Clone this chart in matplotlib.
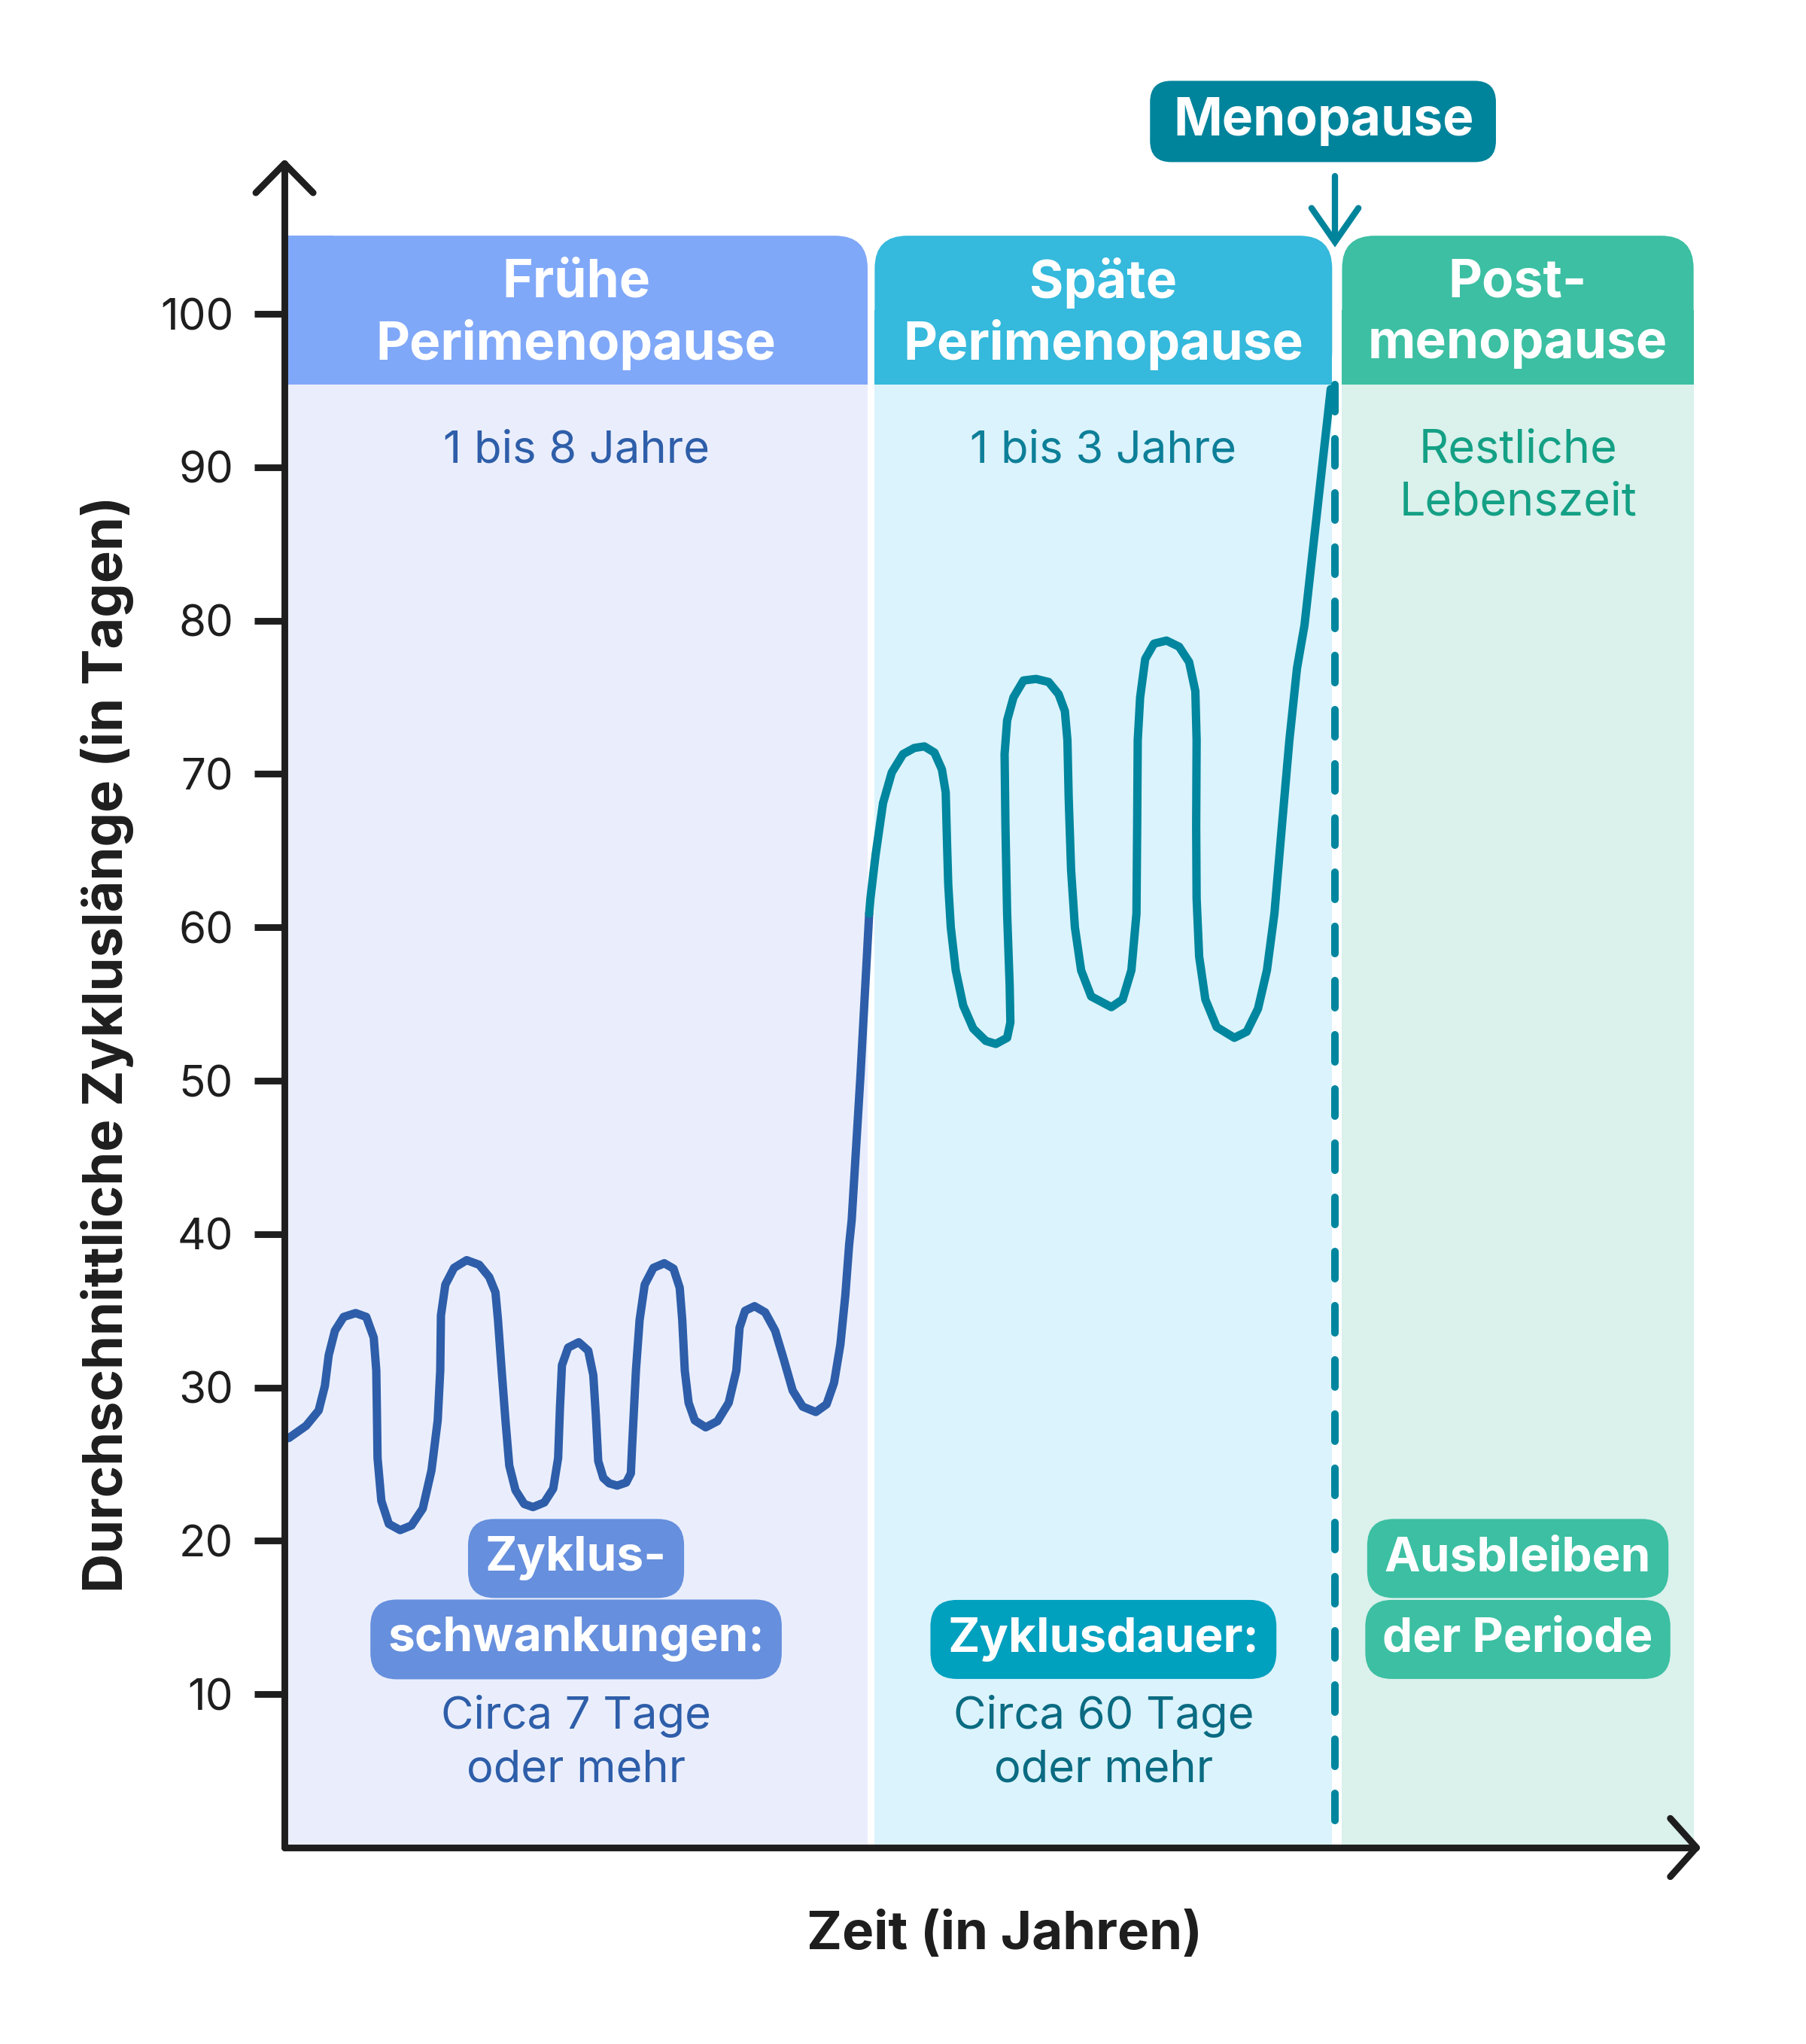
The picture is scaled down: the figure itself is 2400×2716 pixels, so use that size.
import matplotlib
matplotlib.use("Agg")
import matplotlib.pyplot as plt
from matplotlib.patches import FancyBboxPatch, Rectangle

plt.rcParams['font.family'] = ['Inter', 'DejaVu Sans']

# ---------------- data ----------------
phase_titles = [["Frühe", "Perimenopause"], ["Späte", "Perimenopause"], ["Post-", "menopause"]]
phase_durations = [["1 bis 8 Jahre"], ["1 bis 3 Jahre"], ["Restliche", "Lebenszeit"]]
phase_start = [0.0, 41.8, 74.9]
phase_end = [41.3, 74.2, 99.8]
menopause_t = 74.4

early_t = [0.30, 1.53, 2.42, 2.86, 3.13, 3.57, 4.19, 5.04, 5.79, 6.32, 6.50, 6.54, 6.59, 6.86,
           7.39, 8.19, 8.99, 9.79, 10.41, 10.85, 11.03, 11.08, 11.39, 12.01, 12.90, 13.79,
           14.50, 14.94, 15.12, 15.38, 15.65, 15.92, 16.36, 16.98, 17.60, 18.40, 19.03, 19.38,
           19.51, 19.65, 20.09, 20.84, 21.51, 21.87, 22.05, 22.22, 22.58, 23.00, 23.56, 24.20,
           24.53, 24.62, 24.89, 25.15, 25.51, 26.13, 26.90, 27.55, 27.99, 28.17, 28.35, 28.62,
           29.06, 29.83, 30.66, 31.46, 32.00, 32.23, 32.62, 33.29, 34.04, 34.75, 35.37, 35.99,
           36.70, 37.63, 38.39, 38.92, 39.37, 39.72, 39.99, 40.17, 40.79, 41.41]
early_v = [26.7, 27.5, 28.5, 30.1, 32.1, 33.7, 34.6, 34.85, 34.6, 33.25, 31.1, 28.7, 25.4, 22.6,
           21.1, 20.7, 21.0, 22.1, 24.6, 27.85, 31.1, 34.7, 36.7, 37.8, 38.3, 38.0,
           37.2, 36.2, 34.4, 31.1, 27.85, 24.9, 23.3, 22.4, 22.2, 22.5, 23.4, 25.4,
           28.7, 31.45, 32.6, 32.95, 32.4, 30.8, 28.2, 25.2, 24.1, 23.75, 23.6, 23.8,
           24.4, 26.2, 31.1, 34.4, 36.7, 37.8, 38.1, 37.75, 36.5, 34.4, 31.1, 29.0,
           27.85, 27.4, 27.8, 29.0, 31.1, 33.9, 35.0, 35.3, 34.9, 33.7, 31.8, 29.8,
           28.75, 28.4, 28.9, 30.3, 32.8, 36.0, 39.3, 40.9, 50.3, 60.9]

late_t = [41.41, 41.50, 41.86, 42.39, 43.01, 43.81, 44.61, 45.32, 46.03, 46.56, 46.83, 46.92,
          47.01, 47.19, 47.54, 48.07, 48.78, 49.67, 50.38, 51.18, 51.41, 51.36, 51.18, 51.06,
          51.00, 51.18, 51.63, 52.34, 53.23, 54.12, 54.83, 55.27, 55.45, 55.54, 55.71, 55.98,
          56.42, 57.13, 58.56, 59.36, 59.98, 60.34, 60.39, 60.43, 60.60, 60.96, 61.58, 62.47,
          63.36, 64.07, 64.51, 64.60, 64.57, 64.60, 64.78, 65.22, 66.02, 67.27, 68.15, 68.95,
          69.58, 70.11, 70.64, 71.17, 71.71, 72.24, 74.10]
late_v = [60.9, 61.9, 64.7, 68.1, 70.1, 71.3, 71.7, 71.8, 71.4, 70.3, 68.8, 65.6,
          62.8, 60.0, 57.2, 54.9, 53.4, 52.6, 52.4, 52.8, 53.8, 56.2, 60.9, 66.6,
          71.3, 73.5, 75.0, 76.1, 76.2, 76.0, 75.2, 74.1, 72.2, 68.45, 63.75, 60.0,
          57.2, 55.5, 54.8, 55.3, 57.2, 60.9, 66.6, 72.2, 75.0, 77.5, 78.5, 78.7,
          78.3, 77.3, 75.4, 72.2, 66.6, 61.9, 58.1, 55.3, 53.5, 52.8, 53.2, 54.7,
          57.2, 60.9, 66.6, 72.2, 76.9, 79.7, 95.1]

y_ticks = [10, 20, 30, 40, 50, 60, 70, 80, 90, 100]
y_label = "Durchschnittliche Zykluslänge (in Tagen)"
x_label = "Zeit (in Jahren)"
menopause_label = "Menopause"
box_labels = [["Zyklus-", "schwankungen:"], ["Zyklusdauer:"], ["Ausbleiben", "der Periode"]]
note_labels = [["Circa 7 Tage", "oder mehr"], ["Circa 60 Tage", "oder mehr"], []]

# ---------------- style ----------------
head_colors = ['#80A8F8', '#35B9DC', '#3CBFA2']
body_colors = ['#EAEEFC', '#DBF3FC', '#DAF1EC']
dur_colors = ['#2E5EA9', '#0D7F98', '#14A085']
box_colors = ['#668FDD', '#00A0BF', '#3CBFA2']
note_colors = ['#2E5EA9', '#0A6B82', '#0A6B82']
early_color = '#2E5EA9'
late_color = '#00869E'
meno_color = '#00849B'
ink = '#1E1E1E'

fig = plt.figure(figsize=(12, 13.58), dpi=200)
ax = fig.add_axes([0, 0, 1, 1])
ax.set_xlim(-20.15, 107.76)
ax.set_ylim(-12.81, 120.47)
ax.set_facecolor('white')

head_bot, head_top = 95.4, 105.1
rx = 2.3
aspect = 0.921

for i in range(3):
    x0, x1 = phase_start[i], phase_end[i]
    w = x1 - x0
    ax.add_patch(Rectangle((x0, 0), w, head_bot, facecolor=body_colors[i], edgecolor='none', zorder=1))
    ax.add_patch(FancyBboxPatch((x0, head_bot), w, head_top - head_bot,
                                boxstyle=f"round,pad=0,rounding_size={rx}", mutation_aspect=aspect,
                                facecolor=head_colors[i], edgecolor='none', zorder=1))
    ax.add_patch(Rectangle((x0, head_bot), w, (head_top - head_bot) / 2,
                           facecolor=head_colors[i], edgecolor='none', zorder=1))
    if i == 0:
        ax.add_patch(Rectangle((x0, head_bot), rx * 1.5, head_top - head_bot,
                               facecolor=head_colors[i], edgecolor='none', zorder=1))
    xc = (x0 + x1) / 2
    ax.text(xc, 102.0, phase_titles[i][0], ha='center', va='center', fontsize=25,
            fontweight='bold', color='white', zorder=5)
    ax.text(xc, 98.0, phase_titles[i][1], ha='center', va='center', fontsize=25,
            fontweight='bold', color='white', zorder=5)
    for j, s in enumerate(phase_durations[i]):
        ax.text(xc, 91.1 - 3.45 * j, s, ha='center', va='center', fontsize=21.5 if i < 2 else 22,
                color=dur_colors[i], zorder=5)
    # boxes
    labels = box_labels[i]
    ys = [18.85, 13.57] if len(labels) == 2 else [13.57]
    for s, yy in zip(labels, ys):
        ax.text(xc, yy, s, ha='center', va='center', fontsize=23, fontweight='bold',
                color='white', zorder=5,
                bbox=dict(boxstyle='round,pad=0.36,rounding_size=0.55', facecolor=box_colors[i],
                          edgecolor='none'))
    for j, s in enumerate(note_labels[i]):
        ax.text(xc, 8.55 - 3.5 * j, s, ha='center', va='center', fontsize=21.5,
                color=note_colors[i], zorder=5)

# menopause dashed line
ax.plot([menopause_t, menopause_t], [head_bot, 0], color=late_color, lw=3.6,
        dashes=(3.6, 3.6), dash_capstyle='round', zorder=2)

# curves
ax.plot(early_t, early_v, color=early_color, lw=4.0, solid_joinstyle='round',
        solid_capstyle='round', zorder=3)
ax.plot(late_t, late_v, color=late_color, lw=4.0, solid_joinstyle='round',
        solid_capstyle='round', zorder=3)

# axes
for side in ['top', 'right']:
    ax.spines[side].set_visible(False)
ax.spines['left'].set_position(('data', 0))
ax.spines['bottom'].set_position(('data', 0))
ax.spines['left'].set_bounds(0, 109.8)
ax.spines['bottom'].set_bounds(0, 100)
for side in ['left', 'bottom']:
    ax.spines[side].set_linewidth(3.2)
    ax.spines[side].set_color(ink)
    ax.spines[side].set_capstyle('round')
    ax.spines[side].set_zorder(4)
ax.set_yticks(y_ticks)
ax.set_yticklabels([str(v) for v in y_ticks])
ax.set_xticks([])
ax.tick_params(axis='y', length=14.5, width=3.2, color=ink, pad=10, labelsize=21, labelcolor=ink)

# arrow heads
ax.plot([-2.03, 0, 2.03], [107.9, 109.8, 107.9], color=ink, lw=3.2, solid_capstyle='round',
        solid_joinstyle='round', clip_on=False, zorder=4)
ax.plot([98.15, 100, 98.15], [1.9, 0, -1.9], color=ink, lw=3.2, solid_capstyle='round',
        solid_joinstyle='round', clip_on=False, zorder=4)

# labels
ax.text(-12.57, 52.4, y_label, rotation=90, ha='center', va='center', fontsize=26,
        fontweight='bold', color=ink)
ax.text(51.0, -5.74, x_label, ha='center', va='center', fontsize=25.5, fontweight='bold', color=ink)

# menopause label + arrow
ax.add_patch(FancyBboxPatch((61.3, 109.9), 24.5, 5.3,
                            boxstyle="round,pad=0,rounding_size=1.5", mutation_aspect=aspect,
                            facecolor=meno_color, edgecolor='none', zorder=5))
ax.text(73.6, 112.55, menopause_label, ha='center', va='center', fontsize=25, fontweight='bold',
        color='white', zorder=6)
ax.plot([menopause_t, menopause_t], [109.0, 104.7], color=meno_color, lw=3.0,
        solid_capstyle='round', zorder=5)
ax.plot([menopause_t - 1.66, menopause_t, menopause_t + 1.66], [106.9, 104.7, 106.9],
        color=meno_color, lw=3.0, solid_capstyle='round', solid_joinstyle='miter', zorder=5)

fig.savefig('out.png', dpi=200, facecolor='white')
